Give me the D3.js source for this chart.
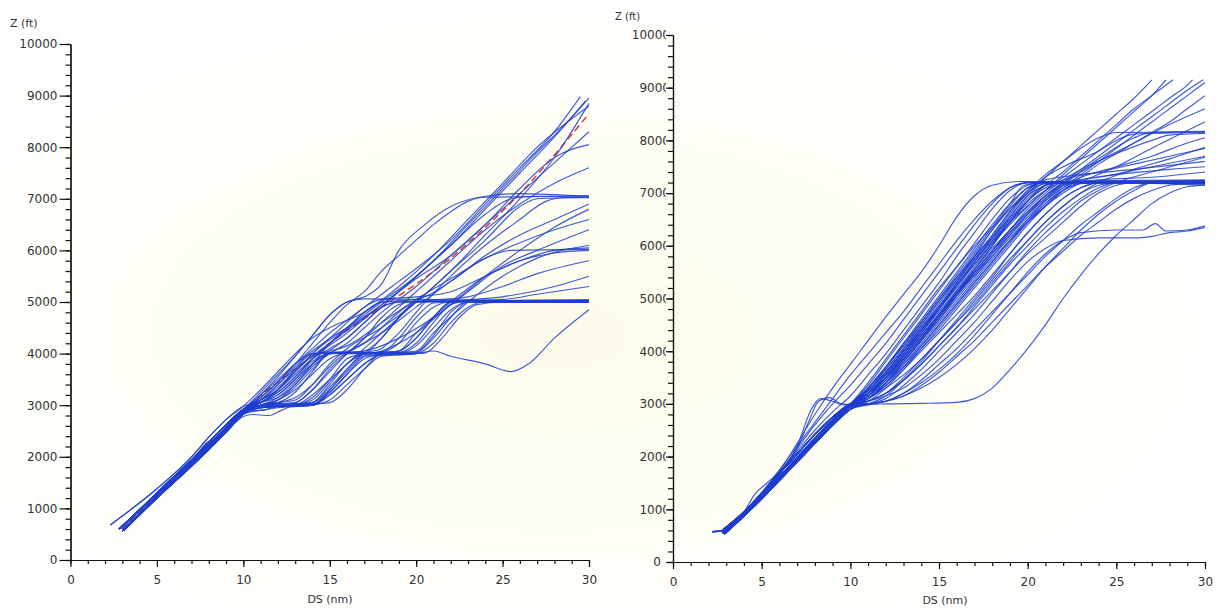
<!DOCTYPE html>
<html>
<head>
<meta charset="utf-8">
<title>Z vs DS</title>
<script src="https://d3js.org/d3.v7.min.js"></script>
<style>
  body { margin: 0; background: #fff; overflow: hidden; }
  svg { display: block; }
  .axis text { font-family: "DejaVu Sans", sans-serif; font-size: 12px; fill: #333; }
  .axis path, .axis line { stroke: #111; stroke-width: 1.2; }
  .title { font-family: "DejaVu Sans", sans-serif; fill: #333; }
</style>
</head>
<body>
<div id="chart"></div>
<script>
// tick values
var xTicks = [0, 5, 10, 15, 20, 25, 30];
var yTicks = [0, 1000, 2000, 3000, 4000, 5000, 6000, 7000, 8000, 9000, 10000];

// left panel: trajectories [DS (nm), Z (ft)]
var leftTracks = [
  [[2.9,620],[5,1300],[7,1940],[9,2620],[10,2920],[11,3250],[12,3600],[13,3950],[14,4350],[15,4750],[16,5000],[17,5100],[18,5350],[19,6000],[20.5,6500],[22,6850],[24,7050],[26,7100],[28,7080],[30,7050]],
  [[2.8,600],[5,1280],[7,1900],[9,2560],[10,2880],[11,3200],[12,3550],[13,3950],[14,4350],[15,4750],[16,5000],[17,5060],[20,5050],[25,5030],[30,5020]],
  [[3,560],[5,1220],[7,1850],[9,2520],[10,2860],[11,3050],[12,3150],[13,3400],[14,3800],[15,4200],[16.5,4600],[18,4900],[19,5000],[22,5020],[30,5000]],
  [[3.1,580],[5,1200],[7,1820],[9,2480],[10,2830],[11,2980],[13,3000],[14,3050],[15,3400],[16,3800],[17,4000],[19,4020],[20,4200],[21,4600],[22,4950],[23,5020],[30,5010]],
  [[2.8,600],[5,1280],[7,1900],[9,2560],[10,2880],[11,3000],[12,3050],[13,3250],[14,3650],[15,4000],[18,4030],[19,4300],[20,4700],[21,4980],[24,5020],[30,5030]],
  [[2.9,620],[5,1300],[7,1940],[9,2620],[10,2920],[11,3100],[12,3300],[13,3700],[14,4000],[17,4020],[18,4300],[19,4700],[20,5000],[30,5040]],
  [[3,560],[5,1220],[7,1850],[9,2520],[10,2860],[11,2950],[14,3000],[15,3200],[16,3500],[17,3800],[18,3980],[20,4020],[21,4300],[22,4700],[23,5000],[30,4990]],
  [[3.1,580],[5,1200],[7,1820],[9,2480],[10,2830],[11,2950],[14,3000],[15,3300],[16,3650],[17,3950],[20,4000],[21,4050],[22,3950],[24,3800],[25.5,3650],[26.5,3800],[28,4300],[30,4850]],
  [[2.8,600],[5,1280],[7,1900],[9,2560],[10,2880],[11,3150],[12,3450],[13,3800],[14,4100],[15,4400],[16,4650],[17,4900],[18,5150],[19,5400],[20,5650],[22,6200],[24,6900],[26,7600],[28,8300],[29.5,8980]],
  [[2.9,620],[5,1300],[7,1940],[9,2620],[10,2920],[11,3100],[12,3400],[13,3700],[15,4200],[17,4700],[19,5200],[21,5800],[23,6500],[25,7200],[27,7900],[28.5,8400],[30,8950]],
  [[3,560],[5,1220],[7,1850],[9,2520],[10,2860],[11,3000],[12,3150],[13,3450],[14,3800],[16,4300],[18,4900],[20,5500],[22,6100],[24,6800],[26,7500],[28,8200],[29.8,8900]],
  [[2.3,680],[5,1380],[7,2000],[8,2380],[9,2720],[10,2980],[11,3300],[12,3650],[13,4000],[14,4300],[15,4500],[17,4800],[19,5300],[21,5900],[23,6600],[25,7300],[27,8000],[30,8800]],
  [[2.8,600],[5,1280],[7,1900],[9,2560],[10,2880],[11,3050],[12,3250],[13,3550],[14,3900],[16,4400],[18,4950],[20,5450],[22,5900],[24,6500],[26,7200],[28,7800],[30,8050]],
  [[3.1,580],[5,1200],[7,1820],[9,2480],[10,2830],[11,2990],[13,3050],[14,3300],[15,3650],[16,4000],[17,4300],[18,4600],[19,4900],[20,5200],[22,5800],[24,6400],[26,6900],[28,7300],[30,7600]],
  [[2.9,620],[5,1300],[7,1940],[9,2620],[10,2920],[11,3050],[12,3300],[13,3650],[14,4000],[16,4500],[18,5000],[20,5500],[22,6100],[24,6700],[25.5,7000],[27,7050],[30,7060]],
  [[3,560],[5,1220],[7,1850],[9,2520],[10,2860],[11,3000],[13,3100],[14,3400],[15,3800],[16,4100],[18,4500],[20,5000],[22,5600],[24,6200],[26,6850],[27,7000],[30,7030]],
  [[2.8,600],[5,1280],[7,1900],[9,2560],[10,2880],[11,3000],[14,3050],[15,3300],[16,3700],[17,4000],[18,4100],[19,4400],[20,4800],[22,5500],[24,6100],[26,6600],[27.5,6950],[28.5,7020],[30,7020]],
  [[3.1,580],[5,1200],[7,1820],[9,2480],[10,2830],[11,2950],[14,3020],[15,3250],[16,3600],[17,3950],[18,4050],[20,4400],[22,4950],[24,5500],[26,6000],[28,6450],[30,6800]],
  [[2.8,600],[5,1280],[7,1900],[9,2560],[10,2880],[11,3100],[12,3350],[13,3650],[14,3950],[15,4050],[16,4150],[18,4600],[20,5050],[22,5450],[24,5850],[26,6150],[28,6400],[30,6600]],
  [[3,560],[5,1220],[7,1850],[9,2520],[10,2860],[11,3000],[12,3100],[13,3350],[14,3700],[15,4000],[17,4050],[19,4300],[21,4700],[23,5200],[25,5700],[27,6000],[30,6400]],
  [[2.9,620],[5,1300],[7,1940],[9,2620],[10,2920],[11,3000],[13,3050],[14,3300],[15,3700],[16,4000],[18,4400],[20,4900],[22,5400],[24,5850],[25.5,6000],[30,6020]],
  [[3.1,580],[5,1200],[7,1820],[9,2480],[10,2830],[11,2980],[14,3000],[15,3200],[16,3500],[17,3800],[18,4000],[20,4050],[21,4400],[23,5000],[25,5500],[27,5850],[30,6100]],
  [[2.8,600],[5,1280],[7,1900],[9,2560],[10,2880],[11,3050],[12,3200],[13,3500],[14,3850],[15,4000],[17,4050],[18,4300],[19,4700],[20,5000],[23,5100],[25,5300],[27,5550],[30,5800]],
  [[3,560],[5,1220],[7,1850],[9,2520],[10,2860],[11,2950],[13,3000],[14,3150],[15,3500],[16,3900],[17,4000],[19,4050],[20,4300],[21,4700],[22,5000],[25,5100],[28,5300],[30,5500]],
  [[2.9,620],[5,1300],[7,1940],[9,2620],[10,2920],[11,3100],[12,3300],[13,3600],[14,3900],[15,4100],[16,4300],[17,4600],[18,4900],[19,5000],[25,5050],[27,5150],[30,5300]],
  [[3.1,580],[5,1200],[7,1820],[9,2480],[10,2830],[11,2900],[12,2950],[14,3000],[15,3100],[16,3400],[17,3700],[18,3950],[20,4000],[21,4200],[22,4600],[23,4900],[24,5000],[30,5000]],
  [[2.8,600],[5,1280],[7,1900],[9,2560],[10,2880],[11,3000],[12,3100],[13,3300],[14,3600],[15,3900],[16,4000],[19,4000],[20,4150],[21,4500],[22,4850],[23,5000],[30,5010]],
  [[3,560],[5,1220],[7,1850],[9,2520],[10,2860],[11,2990],[13,3010],[14,3100],[15,3450],[16,3800],[17,3990],[20.5,4010],[21.5,4300],[22.5,4700],[23.5,4950],[25,5000],[30,4990]],
  [[3.1,580],[5,1200],[7,1820],[9,2480],[10,2780],[10.5,2820],[11.5,2800],[12.2,2900],[13,3000],[15,3050],[16,3300],[17,3700],[18,4000],[20,4030],[21,4350],[22,4800],[23,5000],[30,5020]],
  [[2.9,620],[5,1300],[7,1940],[9,2620],[10,2920],[11,3200],[12,3500],[13,3800],[14,4050],[15,4300],[16,4600],[17,4900],[18,5050],[20,5100],[22,5200],[24,5500],[26,5800],[28,6000],[30,6050]],
  [[2.8,600],[5,1280],[7,1900],[9,2560],[10,2880],[11,3100],[12,3400],[13,3750],[14,4000],[16,4050],[17,4200],[18,4500],[19,4800],[20,5000],[30,5040]],
  [[3,560],[5,1220],[7,1850],[9,2520],[10,2860],[11,3050],[12,3200],[13,3500],[14,3800],[15,4000],[16,4030],[17,4300],[18,4700],[19,4950],[20,5020],[30,5010]],
  [[2.3,680],[5,1380],[7,2000],[8,2380],[9,2720],[10,2980],[11,3050],[12,3300],[13,3650],[14,4000],[15,4300],[16,4500],[17,4800],[18,5000],[20,5050],[22,5400],[24,5900],[26,6300],[28,6600],[30,6900]],
  [[2.9,620],[5,1300],[7,1940],[9,2620],[10,2920],[11,3150],[12,3450],[13,3800],[14,4200],[15,4600],[16,4950],[17,5200],[18,5600],[19,5900],[20,6200],[21,6500],[22,6750],[23,6950],[24,7030],[30,7050]],
  [[3.1,580],[5,1200],[7,1820],[9,2480],[10,2830],[11,2950],[13,3000],[14,3200],[15,3500],[16,3800],[17,4100],[18,4400],[19,4700],[20,5000],[22,5600],[24,6300],[26,7000],[28,7800],[30,8850]],
  [[2.8,600],[5,1280],[7,1900],[9,2560],[10,2880],[11,3000],[12,3100],[13,3400],[14,3750],[15,4000],[16,4200],[17,4500],[18,4800],[20,5300],[22,5900],[24,6500],[26,7100],[28,7700],[30,8300]],
  [[3,600],[5,1260],[7,1880],[7.8,2250],[8.5,2380],[9.5,2750],[10,2900],[11,2900],[12,2980],[14,3050],[15,3350],[16,3700],[17,4000],[19,4050],[20,4300],[21,4700],[22,5000],[30,5000]],
  [[3,560],[5,1220],[7,1850],[9,2520],[10,2860],[11,3000],[12,3050],[13,3150],[14,3400],[15,3750],[16,4000],[18,4030],[19,4200],[20,4600],[21,4900],[22,5000],[30,5020]],
  [[2.9,620],[5,1300],[7,1940],[9,2620],[10,2920],[11,3050],[12,3250],[13,3550],[14,3900],[15,4200],[16,4500],[17,4800],[18,5000],[30,5030]],
  [[3.1,580],[5,1200],[7,1820],[9,2480],[10,2830],[11,2950],[12,3000],[14,3000],[15,3250],[16,3600],[17,3900],[18,4000],[19,4050],[20,4400],[22,5000],[24,5500],[26,5800],[28,5950],[30,6000]]
];

// left panel: red dashed reference profile
var redTrack = [[3,600],[5,1250],[7,1900],[9,2550],[10,2900],[12,3450],[14,3950],[16,4450],[18,4900],[20,5350],[22,5850],[24,6450],[26,7100],[28,7850],[30,8650]];

// right panel: trajectories [DS (nm), Z (ft)]
var rightTracks = [
  [[2.8,560],[4,920],[5,1280],[6,1720],[7,2250],[8,2800],[9,3300],[10,3750],[11,4200],[12,4650],[13,5080],[14,5500],[15,6000],[16,6550],[17,6950],[18,7150],[19.5,7220],[25,7220],[30,7200]],
  [[2.7,580],[4,950],[5,1320],[6,1750],[7,2200],[8,2650],[9,3100],[10,3550],[11,3950],[12,4350],[13,4750],[14,5200],[15,5650],[16,6100],[17,6500],[18,6850],[19,7100],[20,7200],[30,7220]],
  [[2.8,560],[4,930],[5,1300],[6,1700],[7,2150],[8,2600],[9,3000],[10,3350],[11,3750],[12,4150],[13,4600],[14,5050],[15,5500],[16,5950],[17,6400],[18,6800],[19,7100],[20,7200],[30,7230]],
  [[2.7,580],[4,950],[5,1310],[6,1700],[7,2100],[8,2500],[9,2850],[10,3150],[11,3550],[12,3950],[13,4400],[14,4850],[15,5300],[16,5800],[17,6250],[18,6700],[19,7050],[20,7200],[30,7200]],
  [[2.8,550],[4,900],[5,1250],[6,1650],[7,2200],[7.8,2900],[8.3,3100],[9,3050],[9.6,2980],[10,3000],[11,3300],[12,3700],[13,4150],[14,4600],[15,5050],[16,5500],[17,5950],[18,6400],[19,6800],[20,7100],[21,7200],[30,7180]],
  [[2.8,550],[4,900],[5,1250],[6,1600],[7,1950],[8,2300],[9,2650],[10,2950],[11,3200],[12,3550],[13,3950],[14,4350],[15,4800],[16,5250],[17,5700],[18,6150],[19,6600],[20,7000],[21,7180],[22,7200],[30,7200]],
  [[2.9,530],[4,870],[5,1200],[6,1550],[7,1900],[8,2250],[9,2600],[10,2900],[11,3150],[12,3500],[13,3850],[14,4250],[15,4650],[16,5100],[17,5550],[18,6000],[19,6450],[20,6850],[21,7150],[22,7200],[30,7210]],
  [[2.7,580],[4,950],[5,1300],[6,1680],[7,2050],[8,2420],[9,2750],[10,3000],[11,3300],[12,3700],[13,4100],[14,4550],[15,5000],[16,5450],[17,5900],[18,6350],[19,6800],[19.8,7150],[21,7200],[30,7190]],
  [[2.8,550],[4,900],[5,1250],[6,1600],[7,1950],[8,2300],[9,2650],[10,2950],[11,3100],[12,3350],[13,3650],[14,4000],[15,4350],[16,4700],[17,5050],[18,5450],[19,5850],[20,6250],[21,6600],[22,6900],[23,7100],[24,7200],[30,7230]],
  [[2.9,530],[4,870],[5,1200],[6,1550],[7,1900],[8,2250],[9,2600],[10,2900],[11,3050],[12,3200],[13,3450],[14,3750],[15,4100],[16,4450],[17,4850],[18,5250],[19,5650],[20,6000],[21,6350],[22,6650],[23,6900],[24,7100],[25,7200],[30,7180]],
  [[2.2,575],[2.8,590],[4,950],[5,1280],[6,1620],[7,1980],[8,2350],[9,2700],[10,2980],[11,3250],[12,3600],[13,4000],[14,4400],[15,4850],[16,5300],[17,5800],[18,6300],[19,6750],[20,7100],[21,7200],[30,7220]],
  [[2.7,580],[4,950],[5,1300],[6,1680],[7,2050],[8,2420],[9,2750],[10,3000],[11,3350],[12,3800],[13,4250],[14,4700],[15,5150],[16,5600],[17,6050],[18,6500],[19,6900],[20,7150],[21,7220],[30,7240]],
  [[2.8,550],[4,900],[5,1250],[6,1600],[7,1950],[8,2300],[9,2650],[10,2950],[11,3200],[12,3500],[13,3900],[14,4300],[15,4700],[16,5100],[17,5500],[18,5900],[19,6300],[20,6650],[21,6950],[22,7150],[24,7250],[27,7300],[30,7400]],
  [[2.9,530],[4,870],[5,1200],[6,1550],[7,1900],[8,2250],[9,2600],[10,2900],[11,3100],[12,3300],[13,3550],[14,3850],[15,4200],[16,4550],[17,4900],[18,5300],[19,5700],[20,6100],[21,6450],[22,6750],[23,7000],[24,7150],[25,7200],[30,7150]],
  [[2.2,575],[2.8,590],[4,950],[5,1280],[6,1620],[7,1980],[8,2350],[9,2700],[10,2980],[11,3150],[12,3450],[13,3850],[14,4250],[15,4700],[16,5150],[17,5600],[18,6050],[19,6500],[20,6900],[21,7150],[22,7220],[30,7250]],
  [[2.7,580],[4,950],[5,1300],[6,1680],[7,2050],[8,2420],[9,2750],[10,3000],[11,3250],[12,3600],[13,4000],[14,4450],[15,4900],[16,5350],[17,5800],[18,6200],[19,6650],[20,7050],[21,7250],[23,7350],[26,7450],[30,7600]],
  [[2.8,550],[4,900],[5,1250],[6,1600],[7,1950],[8,2300],[9,2650],[10,2950],[11,3050],[12,3300],[13,3650],[14,4050],[15,4450],[16,4850],[17,5250],[18,5650],[19,6050],[20,6450],[21,6800],[22,7050],[23,7180],[25,7220],[30,7200]],
  [[2.9,530],[4,870],[5,1200],[6,1550],[7,1900],[8,2250],[9,2600],[10,2900],[11,3000],[12,3150],[13,3450],[14,3800],[15,4200],[16,4600],[17,5000],[18,5400],[19,5850],[20,6250],[21,6600],[22,6900],[23,7100],[24,7200],[30,7220]],
  [[2.8,550],[4,900],[5,1250],[6,1600],[7,1950],[8,2300],[9,2650],[10,2950],[11,3150],[12,3450],[13,3800],[14,4200],[15,4650],[16,5100],[17,5550],[18,6000],[19,6450],[20,6850],[21,7100],[22,7250],[24,7400],[26,7550],[28,7700],[30,7850]],
  [[2.7,580],[4,950],[5,1300],[6,1680],[7,2050],[8,2420],[9,2750],[10,3000],[11,3200],[12,3550],[13,3950],[14,4400],[15,4850],[16,5300],[17,5750],[18,6200],[19,6650],[20,7000],[21,7300],[22,7500],[24,7800],[25,8000],[26,8120],[30,8150]],
  [[2.2,575],[2.8,590],[4,950],[5,1280],[6,1620],[7,1980],[8,2350],[9,2700],[10,2980],[11,3300],[12,3650],[13,4050],[14,4500],[15,4950],[16,5400],[17,5850],[18,6300],[19,6700],[20,7050],[21,7350],[22,7600],[23,7850],[24,8050],[25,8150],[30,8160]],
  [[2.9,530],[4,870],[5,1200],[6,1550],[7,1900],[8,2250],[9,2600],[10,2900],[11,3100],[12,3400],[13,3800],[14,4200],[15,4600],[16,5050],[17,5500],[18,5900],[19,6300],[20,6700],[21,7000],[22,7250],[23,7450],[25,7750],[27,8000],[28,8100],[30,8130]],
  [[2.8,550],[4,900],[5,1250],[6,1600],[7,1950],[8,2300],[9,2650],[10,2950],[11,3200],[12,3500],[13,3850],[14,4250],[15,4650],[16,5050],[17,5450],[18,5850],[19,6200],[20,6550],[22,7150],[24,7650],[26,8050],[27,8150],[30,8170]],
  [[2.7,580],[4,950],[5,1300],[6,1680],[7,2050],[8,2420],[9,2750],[10,3000],[11,3400],[12,3850],[13,4300],[14,4750],[15,5200],[16,5600],[17,6000],[18,6350],[19,6700],[20,7000],[21,7300],[22,7600],[23,7900],[24,8200],[25,8500],[26,8800],[27,9150]],
  [[2.8,550],[4,900],[5,1250],[6,1600],[7,1950],[8,2300],[9,2650],[10,2950],[11,3250],[12,3650],[13,4050],[14,4450],[15,4850],[16,5250],[17,5650],[18,6050],[19,6400],[20,6750],[21,7050],[22,7350],[23,7650],[24,7950],[25,8250],[26,8550],[27,8850],[27.8,9150]],
  [[2.2,575],[2.8,590],[4,950],[5,1280],[6,1620],[7,1980],[8,2350],[9,2700],[10,2980],[11,3300],[12,3700],[13,4100],[14,4500],[15,4950],[16,5350],[17,5750],[18,6100],[19,6450],[20,6750],[21,7050],[22,7300],[23,7550],[24,7800],[25,8050],[26,8300],[27,8550],[28,8800],[29,9050],[29.3,9150]],
  [[2.9,530],[4,870],[5,1200],[6,1550],[7,1900],[8,2250],[9,2600],[10,2900],[11,3150],[12,3500],[13,3900],[14,4300],[15,4700],[16,5100],[17,5500],[18,5900],[19,6250],[20,6600],[21,6900],[22,7200],[23,7450],[24,7700],[25,7950],[26,8200],[27,8450],[28,8700],[29,8950],[29.9,9150]],
  [[2.7,580],[4,950],[5,1300],[6,1680],[7,2050],[8,2420],[9,2750],[10,3000],[11,3300],[12,3700],[13,4150],[14,4550],[15,5000],[16,5400],[17,5800],[18,6150],[19,6500],[20,6850],[21,7150],[22,7400],[23,7700],[24,8000],[25,8300],[26,8600],[27,8850],[28.2,9150]],
  [[2.8,550],[4,900],[5,1250],[6,1600],[7,1950],[8,2300],[9,2650],[10,2950],[11,3200],[12,3550],[13,3900],[14,4300],[15,4700],[16,5100],[17,5450],[18,5800],[19,6150],[20,6500],[21,6800],[22,7100],[23,7350],[24,7600],[25,7850],[26,8100],[27,8350],[28,8600],[29,8850],[30,9100]],
  [[2.9,530],[4,870],[5,1200],[6,1550],[7,1900],[8,2250],[9,2600],[10,2900],[11,3100],[12,3400],[13,3750],[14,4150],[15,4550],[16,4950],[17,5350],[18,5750],[19,6100],[20,6450],[21,6750],[22,7050],[23,7300],[24,7550],[25,7750],[26,7950],[27,8150],[28,8350],[29,8600],[30,8850]],
  [[2.2,575],[2.8,590],[4,950],[5,1280],[6,1620],[7,1980],[8,2350],[9,2700],[10,2980],[11,3200],[12,3550],[13,3950],[14,4350],[15,4750],[16,5150],[17,5550],[18,5950],[19,6300],[20,6650],[21,6950],[22,7200],[23,7400],[24,7600],[26,7950],[28,8300],[30,8600]],
  [[2.8,550],[4,900],[5,1250],[6,1600],[7,1950],[8,2300],[9,2650],[10,2950],[11,3100],[12,3400],[13,3750],[14,4100],[15,4500],[16,4900],[17,5300],[18,5700],[19,6100],[20,6450],[21,6750],[22,7000],[23,7200],[25,7500],[27,7850],[30,8350]],
  [[2.9,530],[4,870],[5,1200],[6,1550],[7,1900],[8,2250],[9,2600],[10,2900],[11,3050],[12,3200],[13,3500],[14,3850],[15,4200],[16,4550],[17,4950],[18,5350],[19,5750],[20,6100],[21,6450],[22,6750],[23,7000],[24,7200],[26,7450],[28,7650],[30,7870]],
  [[2.8,550],[4,900],[5,1250],[6,1600],[7,1950],[8,2300],[9,2650],[10,2950],[11,3000],[12,3100],[13,3350],[14,3650],[15,4000],[16,4350],[17,4700],[18,5100],[19,5500],[20,5900],[21,6250],[22,6550],[23,6850],[24,7050],[25,7200],[27,7400],[30,7680]],
  [[2.7,580],[4,950],[5,1300],[6,1680],[7,2050],[8,2420],[9,2750],[10,3000],[11,3050],[12,3200],[13,3450],[14,3750],[15,4100],[16,4450],[17,4800],[18,5150],[19,5500],[20,5850],[21,6150],[22,6450],[23,6750],[24,7000],[25,7150],[26,7200],[30,7200]],
  [[2.9,530],[4,870],[5,1200],[6,1550],[7,1900],[8,2250],[9,2600],[10,2900],[11,2980],[12,3050],[13,3200],[14,3450],[15,3750],[16,4050],[17,4400],[18,4750],[19,5100],[20,5450],[21,5800],[22,6100],[23,6400],[24,6650],[25,6900],[26,7100],[27,7200],[30,7180]],
  [[2.2,575],[2.8,590],[4,950],[5,1280],[6,1620],[7,1980],[8,2350],[9,2700],[10,2980],[11,3000],[12,3050],[13,3150],[14,3350],[15,3600],[16,3900],[17,4200],[18,4550],[19,4900],[20,5250],[21,5600],[22,5900],[23,6200],[24,6450],[25,6700],[26,6900],[27,7050],[28,7150],[30,7200]],
  [[2.8,550],[4,900],[5,1250],[6,1600],[7,1950],[8,2300],[9,2650],[10,2950],[11,3000],[12,3050],[13,3200],[14,3400],[15,3650],[16,3950],[17,4300],[18,4700],[19,5100],[20,5500],[21,5850],[22,6100],[23,6250],[25,6300],[26.5,6300],[27.2,6420],[27.8,6280],[29,6300],[30,6380]],
  [[2.7,580],[4,950],[5,1300],[6,1680],[7,2050],[8,2420],[9,2750],[10,3000],[11,3050],[12,3150],[13,3300],[14,3550],[15,3850],[16,4200],[17,4550],[18,4950],[19,5350],[20,5700],[21,5950],[22,6100],[24,6150],[26,6150],[27,6180],[28,6250],[29,6280],[30,6350]],
  [[2.9,530],[4,870],[5,1200],[6,1550],[7,1900],[8,2250],[9,2600],[10,2900],[11,2990],[12,3000],[14,3010],[16,3030],[17,3100],[18,3300],[19,3650],[20,4050],[21,4500],[22,5000],[23,5450],[24,5850],[25,6200],[26,6500],[27,6800],[28,7000],[29,7120],[30,7150]],
  [[2.8,550],[4,900],[5,1250],[6,1600],[7,1950],[8,2300],[9,2650],[10,2950],[11,3000],[12,3050],[13,3150],[14,3300],[15,3500],[16,3750],[17,4050],[18,4400],[19,4800],[20,5200],[21,5600],[22,5950],[23,6300],[24,6600],[25,6850],[26,7050],[27,7200],[30,7230]],
  [[2.7,580],[4,950],[5,1300],[6,1680],[7,2050],[8,2420],[9,2750],[10,3000],[11,3150],[12,3400],[13,3700],[14,4050],[15,4400],[16,4800],[17,5200],[18,5600],[19,6000],[20,6400],[21,6750],[22,7050],[23,7200],[30,7200]],
  [[2.9,530],[4,870],[5,1200],[6,1550],[7,1900],[8,2250],[9,2600],[10,2900],[11,3100],[12,3350],[13,3700],[14,4100],[15,4500],[16,4900],[17,5300],[18,5700],[19,6100],[20,6500],[21,6850],[22,7100],[23,7250],[25,7350],[28,7450],[30,7500]],
  [[2.2,575],[2.8,590],[4,950],[5,1280],[6,1620],[7,1980],[8,2350],[9,2700],[10,2980],[11,3100],[12,3400],[13,3800],[14,4200],[15,4600],[16,5000],[17,5400],[18,5800],[19,6200],[20,6600],[21,6950],[22,7180],[24,7300],[27,7500],[30,7700]],
  [[2.8,550],[4,900],[5,1250],[6,1600],[7,1950],[8,2300],[9,2650],[10,2950],[11,3250],[12,3600],[13,4000],[14,4400],[15,4800],[16,5200],[17,5650],[18,6050],[19,6450],[20,6800],[21,7050],[22,7200],[30,7210]],
  [[2.8,560],[4,920],[5,1270],[6,1680],[7,2150],[7.7,2700],[8.2,3050],[8.8,3120],[9.5,3000],[10.2,2980],[11,3150],[12,3500],[13,3900],[14,4350],[15,4800],[16,5250],[17,5700],[18,6150],[19,6550],[20,6950],[21,7150],[22,7220],[30,7210]],
  [[2.8,540],[3.5,750],[4,950],[4.6,1280],[5.3,1500],[6,1700],[7,2000],[8,2350],[9,2700],[10,3000],[11,3250],[12,3600],[13,4000],[14,4400],[15,4800],[16,5250],[17,5700],[18,6100],[19,6550],[20,6950],[21,7200],[30,7200]],
  [[2.7,580],[4,950],[5,1300],[6,1680],[7,2050],[8,2420],[9,2750],[10,3000],[11,3200],[12,3500],[13,3850],[14,4250],[15,4650],[16,5050],[17,5450],[18,5850],[19,6250],[20,6600],[21,6900],[22,7150],[23,7300],[25,7500],[27,7700],[29,7950],[30,8050]]
];

var W = 1228, H = 608;

var svg = d3.select("#chart").append("svg")
  .attr("width", W)
  .attr("height", H);

// faint cream cast of the scanned page
var defs = svg.append("defs");
var grad = defs.append("radialGradient").attr("id", "bg")
  .attr("cx", "45%").attr("cy", "55%").attr("r", "60%");
grad.append("stop").attr("offset", "0%").attr("stop-color", "#fcfbea");
grad.append("stop").attr("offset", "100%").attr("stop-color", "#ffffff");
svg.append("rect").attr("width", W).attr("height", H).attr("fill", "url(#bg)");

// right-panel labels lose their last digit under the tick, as in the scan
defs.append("clipPath").attr("id", "cutLabel")
  .append("rect").attr("x", -80).attr("y", -20).attr("width", 73).attr("height", 40);

function drawPanel(opt) {
  var x = d3.scaleLinear().domain([0, 30]).range(opt.xRange);
  var y = d3.scaleLinear().domain([0, 10000]).range(opt.yRange);
  var g = svg.append("g");

  var line = d3.line()
    .x(function(d) { return x(d[0]); })
    .y(function(d) { return y(d[1]); })
    .curve(d3.curveMonotoneX);

  if (opt.red) {
    g.append("path")
      .datum(opt.red)
      .attr("d", line)
      .attr("fill", "none")
      .attr("stroke", "#e0302a")
      .attr("stroke-width", 1.4)
      .attr("stroke-dasharray", "7,4");
  }

  g.append("g").selectAll("path")
    .data(opt.tracks)
    .enter()
    .append("path")
      .attr("d", line)
      .attr("fill", "none")
      .attr("stroke", "#1e3ecf")
      .attr("stroke-width", 1.15)
      .attr("stroke-opacity", 0.85);

  // minor ticks
  g.append("g").attr("class", "axis")
    .attr("transform", "translate(0," + opt.yRange[0] + ")")
    .call(d3.axisBottom(x).tickValues(d3.range(0, 31, 1)).tickSize(4).tickSizeOuter(0).tickFormat(""));
  g.append("g").attr("class", "axis")
    .attr("transform", "translate(" + opt.xRange[0] + ",0)")
    .call(d3.axisLeft(y).tickValues(d3.range(0, 10001, 200)).tickSize(5).tickSizeOuter(0).tickFormat(""));

  // major ticks and labels
  g.append("g").attr("class", "axis")
    .attr("transform", "translate(0," + opt.yRange[0] + ")")
    .call(d3.axisBottom(x).tickValues(xTicks).tickSize(7).tickSizeOuter(0).tickPadding(8).tickFormat(d3.format("d")));

  var yAxis = g.append("g").attr("class", "axis")
    .attr("transform", "translate(" + opt.xRange[0] + ",0)")
    .call(d3.axisLeft(y).tickValues(yTicks).tickSize(opt.yTick).tickSizeOuter(0).tickPadding(opt.yPad).tickFormat(d3.format("d")));

  if (opt.cutLabels) {
    yAxis.selectAll(".tick text")
      .attr("clip-path", function(d) { return d === 0 ? null : "url(#cutLabel)"; })
      .attr("x", function(d) { return d === 0 ? -12 : -3; });
  }

  g.append("text").attr("class", "title")
    .attr("x", opt.zPos[0]).attr("y", opt.zPos[1])
    .attr("font-size", opt.zSize)
    .text("Z (ft)");

  g.append("text").attr("class", "title")
    .attr("x", opt.dsPos[0]).attr("y", opt.dsPos[1])
    .attr("text-anchor", "middle")
    .attr("font-size", 11)
    .text("DS (nm)");
}

drawPanel({
  tracks: leftTracks,
  red: redTrack,
  xRange: [70.5, 589],
  yRange: [560, 44],
  yTick: 11,
  yPad: 2,
  cutLabels: false,
  zPos: [10, 27],
  zSize: 11,
  dsPos: [330, 603]
});

drawPanel({
  tracks: rightTracks,
  red: null,
  xRange: [673, 1205],
  yRange: [562, 35],
  yTick: 7,
  yPad: 2,
  cutLabels: true,
  zPos: [615, 20],
  zSize: 10,
  dsPos: [945, 604]
});
</script>
</body>
</html>
